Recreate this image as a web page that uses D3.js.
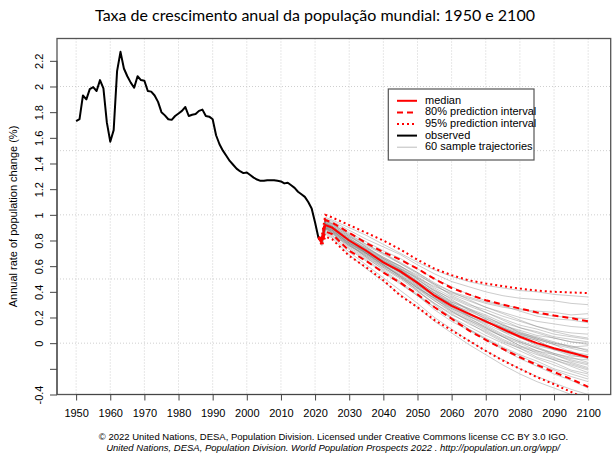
<!DOCTYPE html>
<html><head><meta charset="utf-8">
<script src="https://cdn.jsdelivr.net/npm/d3@7"></script>
<style>body{margin:0;background:#fff;} svg{display:block}</style>
</head><body><svg id="c" width="615" height="453"></svg>
<script>
// ---------- DATA ----------
const titleText = "Taxa de crescimento anual da população mundial: 1950 e 2100";
const yAxisTitle = "Annual rate of population change (%)";
const footer1 = "© 2022 United Nations, DESA, Population Division. Licensed under Creative Commons license CC BY 3.0 IGO.";
const footer2 = "United Nations, DESA, Population Division. World Population Prospects 2022 . http://population.un.org/wpp/";

const obsYears = d3.range(1950, 2022);
const obsValues = [
  1.73,1.745,1.93,1.90,1.98,1.995,1.965,2.05,1.985,1.72,
  1.57,1.66,2.12,2.27,2.14,2.08,2.03,1.99,2.08,2.05,
  2.045,1.965,1.96,1.93,1.88,1.80,1.775,1.745,1.74,1.77,
  1.79,1.81,1.84,1.77,1.78,1.785,1.81,1.82,1.77,1.765,
  1.745,1.62,1.55,1.50,1.46,1.42,1.39,1.36,1.34,1.325,
  1.33,1.31,1.29,1.275,1.265,1.265,1.27,1.27,1.27,1.265,
  1.26,1.245,1.25,1.23,1.21,1.18,1.16,1.14,1.10,1.05,
  0.94,0.82
];

const projYears = [2021,2022,2023,2025,2030,2035,2040,2045,2050,2055,2060,2065,2070,2075,2080,2085,2090,2095,2100];
const median  = [0.82,0.80,0.92,0.90,0.80,0.72,0.63,0.56,0.47,0.37,0.29,0.23,0.17,0.11,0.05,0.00,-0.04,-0.075,-0.11];
const upper80 = [0.82,0.82,0.96,0.94,0.86,0.78,0.71,0.65,0.58,0.50,0.43,0.38,0.335,0.30,0.27,0.24,0.215,0.195,0.17];
const lower80 = [0.82,0.78,0.87,0.85,0.72,0.64,0.55,0.47,0.38,0.28,0.19,0.10,0.025,-0.045,-0.11,-0.17,-0.225,-0.28,-0.34];
const upper95 = [0.82,0.84,1.00,0.98,0.92,0.86,0.80,0.73,0.65,0.58,0.53,0.49,0.465,0.445,0.425,0.41,0.40,0.395,0.39];
const lower95 = [0.82,0.76,0.83,0.81,0.68,0.59,0.49,0.37,0.28,0.18,0.10,0.02,-0.06,-0.135,-0.20,-0.265,-0.32,-0.38,-0.44];

const trajectories = [
  [0.82,0.81,0.95,0.92,0.83,0.76,0.69,0.62,0.54,0.45,0.38,0.33,0.28,0.24,0.20,0.17,0.15,0.13,0.12],
  [0.82,0.78,0.89,0.86,0.74,0.65,0.56,0.47,0.37,0.26,0.17,0.10,0.03,-0.04,-0.10,-0.16,-0.21,-0.26,-0.30],
  [0.82,0.80,0.92,0.90,0.80,0.72,0.62,0.57,0.46,0.38,0.30,0.22,0.18,0.10,0.06,0.02,-0.05,-0.06,-0.12],
  [0.82,0.79,0.91,0.88,0.78,0.71,0.64,0.58,0.51,0.44,0.39,0.35,0.31,0.28,0.26,0.25,0.24,0.22,0.23],
  [0.82,0.81,0.93,0.90,0.80,0.70,0.61,0.52,0.41,0.30,0.20,0.11,0.03,-0.05,-0.12,-0.18,-0.24,-0.29,-0.35],
  [0.82,0.82,0.94,0.91,0.82,0.74,0.66,0.59,0.50,0.40,0.33,0.27,0.20,0.15,0.08,0.05,0.01,-0.03,-0.05],
  [0.82,0.79,0.90,0.87,0.76,0.68,0.59,0.51,0.42,0.33,0.24,0.18,0.12,0.05,0.00,-0.06,-0.09,-0.14,-0.17],
  [0.82,0.83,0.97,0.95,0.88,0.81,0.75,0.69,0.61,0.54,0.48,0.44,0.40,0.37,0.35,0.34,0.33,0.31,0.30],
  [0.82,0.77,0.86,0.83,0.71,0.61,0.51,0.41,0.31,0.20,0.11,0.02,-0.06,-0.13,-0.20,-0.26,-0.31,-0.36,-0.40],
  [0.82,0.80,0.92,0.89,0.81,0.73,0.64,0.55,0.48,0.39,0.31,0.24,0.16,0.12,0.07,0.03,-0.01,-0.04,-0.07],
  [0.82,0.80,0.91,0.88,0.77,0.70,0.61,0.54,0.44,0.35,0.26,0.19,0.13,0.06,0.01,-0.04,-0.08,-0.12,-0.13],
  [0.82,0.81,0.93,0.91,0.81,0.72,0.65,0.57,0.49,0.41,0.35,0.29,0.24,0.19,0.14,0.11,0.07,0.05,0.03],
  [0.82,0.78,0.90,0.86,0.75,0.66,0.58,0.50,0.40,0.31,0.23,0.15,0.09,0.02,-0.04,-0.09,-0.13,-0.17,-0.21],
  [0.82,0.82,0.95,0.93,0.84,0.75,0.67,0.60,0.51,0.42,0.34,0.26,0.21,0.14,0.09,0.04,0.00,-0.02,-0.06],
  [0.82,0.78,0.88,0.85,0.76,0.69,0.61,0.53,0.44,0.34,0.27,0.21,0.16,0.12,0.07,0.04,0.00,-0.03,-0.02],
  [0.82,0.80,0.92,0.90,0.79,0.70,0.62,0.55,0.45,0.36,0.27,0.20,0.12,0.05,-0.02,-0.08,-0.13,-0.18,-0.23],
  [0.82,0.81,0.94,0.91,0.80,0.73,0.66,0.60,0.52,0.43,0.36,0.30,0.26,0.21,0.17,0.13,0.10,0.08,0.07],
  [0.82,0.79,0.89,0.87,0.78,0.69,0.60,0.53,0.43,0.33,0.25,0.17,0.10,0.03,-0.03,-0.07,-0.12,-0.15,-0.19],
  [0.82,0.83,0.96,0.93,0.85,0.77,0.70,0.63,0.55,0.47,0.40,0.34,0.28,0.23,0.18,0.13,0.09,0.06,0.04],
  [0.82,0.77,0.87,0.84,0.73,0.64,0.55,0.46,0.37,0.28,0.20,0.13,0.06,0.00,-0.06,-0.12,-0.17,-0.22,-0.26],
  [0.82,0.80,0.92,0.90,0.80,0.71,0.63,0.55,0.47,0.38,0.30,0.25,0.19,0.14,0.10,0.06,0.04,0.01,0.00],
  [0.82,0.79,0.91,0.89,0.79,0.71,0.62,0.55,0.46,0.36,0.28,0.21,0.14,0.07,0.01,-0.04,-0.09,-0.13,-0.16],
  [0.82,0.81,0.93,0.90,0.81,0.74,0.67,0.60,0.53,0.46,0.40,0.36,0.32,0.29,0.25,0.21,0.19,0.18,0.16],
  [0.82,0.79,0.90,0.88,0.77,0.67,0.57,0.48,0.38,0.28,0.19,0.11,0.04,-0.03,-0.09,-0.14,-0.20,-0.24,-0.28],
  [0.82,0.80,0.92,0.89,0.78,0.70,0.63,0.57,0.47,0.37,0.31,0.23,0.18,0.09,0.05,-0.02,-0.05,-0.10,-0.11],
  [0.82,0.82,0.94,0.92,0.83,0.75,0.66,0.58,0.48,0.39,0.30,0.23,0.17,0.10,0.04,-0.01,-0.05,-0.08,-0.10],
  [0.82,0.78,0.89,0.86,0.77,0.68,0.60,0.52,0.43,0.35,0.28,0.22,0.17,0.13,0.08,0.03,-0.01,-0.07,-0.09],
  [0.82,0.81,0.93,0.91,0.82,0.73,0.65,0.58,0.50,0.41,0.32,0.26,0.19,0.12,0.06,0.02,-0.04,-0.09,-0.12],
  [0.82,0.79,0.90,0.87,0.76,0.67,0.59,0.51,0.41,0.31,0.22,0.16,0.08,0.01,-0.04,-0.11,-0.15,-0.21,-0.24],
  [0.82,0.82,0.95,0.93,0.84,0.77,0.70,0.62,0.55,0.46,0.37,0.31,0.24,0.18,0.12,0.08,0.04,0.01,-0.01],
  [0.82,0.83,0.98,0.96,0.90,0.84,0.77,0.70,0.63,0.57,0.52,0.48,0.45,0.43,0.41,0.40,0.38,0.37,0.36],
  [0.82,0.76,0.85,0.82,0.69,0.58,0.48,0.38,0.28,0.17,0.08,-0.01,-0.09,-0.17,-0.24,-0.30,-0.35,-0.40,-0.45],
  [0.82,0.80,0.91,0.89,0.79,0.72,0.63,0.55,0.45,0.37,0.30,0.21,0.15,0.09,0.02,-0.03,-0.08,-0.11,-0.15],
  [0.82,0.81,0.93,0.91,0.80,0.71,0.64,0.57,0.48,0.39,0.32,0.27,0.22,0.16,0.12,0.09,0.05,0.03,0.01],
  [0.82,0.79,0.90,0.88,0.78,0.70,0.61,0.52,0.43,0.35,0.25,0.18,0.11,0.05,-0.02,-0.06,-0.11,-0.16,-0.20],
  [0.82,0.82,0.96,0.94,0.86,0.79,0.72,0.66,0.58,0.50,0.44,0.38,0.33,0.30,0.27,0.23,0.21,0.20,0.19]
];

const xTicks = [1950,1960,1970,1980,1990,2000,2010,2020,2030,2040,2050,2060,2070,2080,2090,2100];
const yTicks = [-0.4,-0.2,0,0.2,0.4,0.6,0.8,1,1.2,1.4,1.6,1.8,2,2.2];
const yTickLabels = ["-0.4","","0","0.2","0.4","0.6","0.8","1","1.2","1.4","1.6","1.8","2","2.2"];
const yGrid = [0,0.5,1,1.5,2];

const legendItems = [
  {label:"median", color:"#ff0000", dash:null, w:2},
  {label:"80% prediction interval", color:"#ff0000", dash:"6,4", w:2},
  {label:"95% prediction interval", color:"#ff0000", dash:"2,3", w:2},
  {label:"observed", color:"#000000", dash:null, w:2},
  {label:"60 sample trajectories", color:"#bdbdbd", dash:null, w:1}
];

// ---------- LAYOUT ----------
const L = 57, R = 610.7, T = 38.5, B = 394.5;
const x = d3.scaleLinear().domain([1944.4, 2106.6]).range([L, R]);
const y = d3.scaleLinear().domain([-0.4, 2.374]).range([B, T]);
const svg = d3.select("#c");
const font = "'Liberation Sans', Arial, sans-serif";

svg.append("rect").attr("width",615).attr("height",453).attr("fill","#fff");

// title
svg.append("text").attr("x",315).attr("y",21).attr("text-anchor","middle")
  .attr("font-family","Lato, 'Open Sans', sans-serif").attr("font-size",16).attr("fill","#000")
  .text(titleText);

// clip
svg.append("clipPath").attr("id","plotclip").append("rect")
  .attr("x",L).attr("y",T).attr("width",R-L).attr("height",B-T);

// grid
const grid = svg.append("g").attr("stroke","#cfcfcf").attr("stroke-width",1).attr("stroke-dasharray","1,2");
grid.selectAll("line.v").data(xTicks).join("line")
  .attr("x1",d=>x(d)).attr("x2",d=>x(d)).attr("y1",T).attr("y2",B);
grid.selectAll("line.h").data(yGrid).join("line")
  .attr("x1",L).attr("x2",R).attr("y1",d=>y(d)).attr("y2",d=>y(d));

const plot = svg.append("g").attr("clip-path","url(#plotclip)");
const line = d3.line().x(d=>x(d[0])).y(d=>y(d[1]));

// trajectories
plot.append("g").selectAll("path").data(trajectories).join("path")
  .attr("d",t=>line(projYears.map((yr,i)=>[yr,t[i]])))
  .attr("fill","none").attr("stroke","#808080").attr("stroke-width",0.9).attr("stroke-opacity",0.45);

// observed
plot.append("path").attr("d",line(obsYears.map((yr,i)=>[yr,obsValues[i]])))
  .attr("fill","none").attr("stroke","#000").attr("stroke-width",2).attr("stroke-linejoin","round");

// intervals
const bands = [
  {v:upper95, dash:"2,3"},{v:lower95, dash:"2,3"},
  {v:upper80, dash:"6,4"},{v:lower80, dash:"6,4"},
  {v:median, dash:null}
];
bands.forEach(b=>{
  const p = plot.append("path").attr("d",line(projYears.map((yr,i)=>[yr,b.v[i]])))
    .attr("fill","none").attr("stroke","#ff0000").attr("stroke-width",2);
  if(b.dash) p.attr("stroke-dasharray",b.dash);
});

// frame
svg.append("rect").attr("x",L).attr("y",T).attr("width",R-L).attr("height",B-T)
  .attr("fill","none").attr("stroke","#555").attr("stroke-width",1.3);

// x axis
const xa = svg.append("g").attr("transform",`translate(0,${B})`)
  .call(d3.axisBottom(x).tickValues(xTicks).tickFormat(d3.format("d")).tickSize(6).tickSizeOuter(0));
xa.select(".domain").attr("d",`M${x(1950)},0H${x(2100)}`).attr("stroke","#444");
xa.selectAll(".tick line").attr("stroke","#444");
xa.selectAll("text").attr("font-family",font).attr("font-size",11).attr("fill","#000").attr("dy","1.2em");

// y axis
const ya = svg.append("g").attr("transform",`translate(${L},0)`)
  .call(d3.axisLeft(y).tickValues(yTicks).tickFormat((d,i)=>yTickLabels[i]).tickSize(7).tickSizeOuter(0));
ya.select(".domain").attr("d",`M0,${y(-0.4)}V${y(2.2)}`).attr("stroke","#444");
ya.selectAll(".tick line").attr("stroke","#444");
ya.selectAll(".tick text").attr("font-family",font).attr("font-size",11).attr("fill","#000")
  .attr("x",null).attr("dy",null).attr("text-anchor","middle")
  .attr("transform","translate(-17,0) rotate(-90)").attr("dominant-baseline","middle");

// y title
svg.append("text").attr("transform","translate(14,216.5) rotate(-90)")
  .attr("text-anchor","middle").attr("dominant-baseline","middle")
  .attr("font-family",font).attr("font-size",11).attr("fill","#000").text(yAxisTitle);

// legend
const lg = svg.append("g");
lg.append("rect").attr("x",388.3).attr("y",89).attr("width",145.7).attr("height",71)
  .attr("fill","#fff").attr("stroke","#555").attr("stroke-width",1.2);
legendItems.forEach((it,i)=>{
  const yy = 100.8 + i*11.6;
  const l = lg.append("line").attr("x1",397).attr("x2",417).attr("y1",yy).attr("y2",yy)
    .attr("stroke",it.color).attr("stroke-width",it.w);
  if(it.dash) l.attr("stroke-dasharray",it.dash);
  lg.append("text").attr("x",425).attr("y",yy).attr("dominant-baseline","middle")
    .attr("font-family",font).attr("font-size",11).attr("fill","#000").text(it.label);
});

// footer
svg.append("text").attr("x",333.5).attr("y",440).attr("text-anchor","middle")
  .attr("font-family",font).attr("font-size",9.5).attr("fill","#000").text(footer1);
svg.append("text").attr("x",333).attr("y",451).attr("text-anchor","middle")
  .attr("font-family",font).attr("font-size",9.5).attr("font-style","italic").attr("fill","#000").text(footer2);
</script></body></html>
